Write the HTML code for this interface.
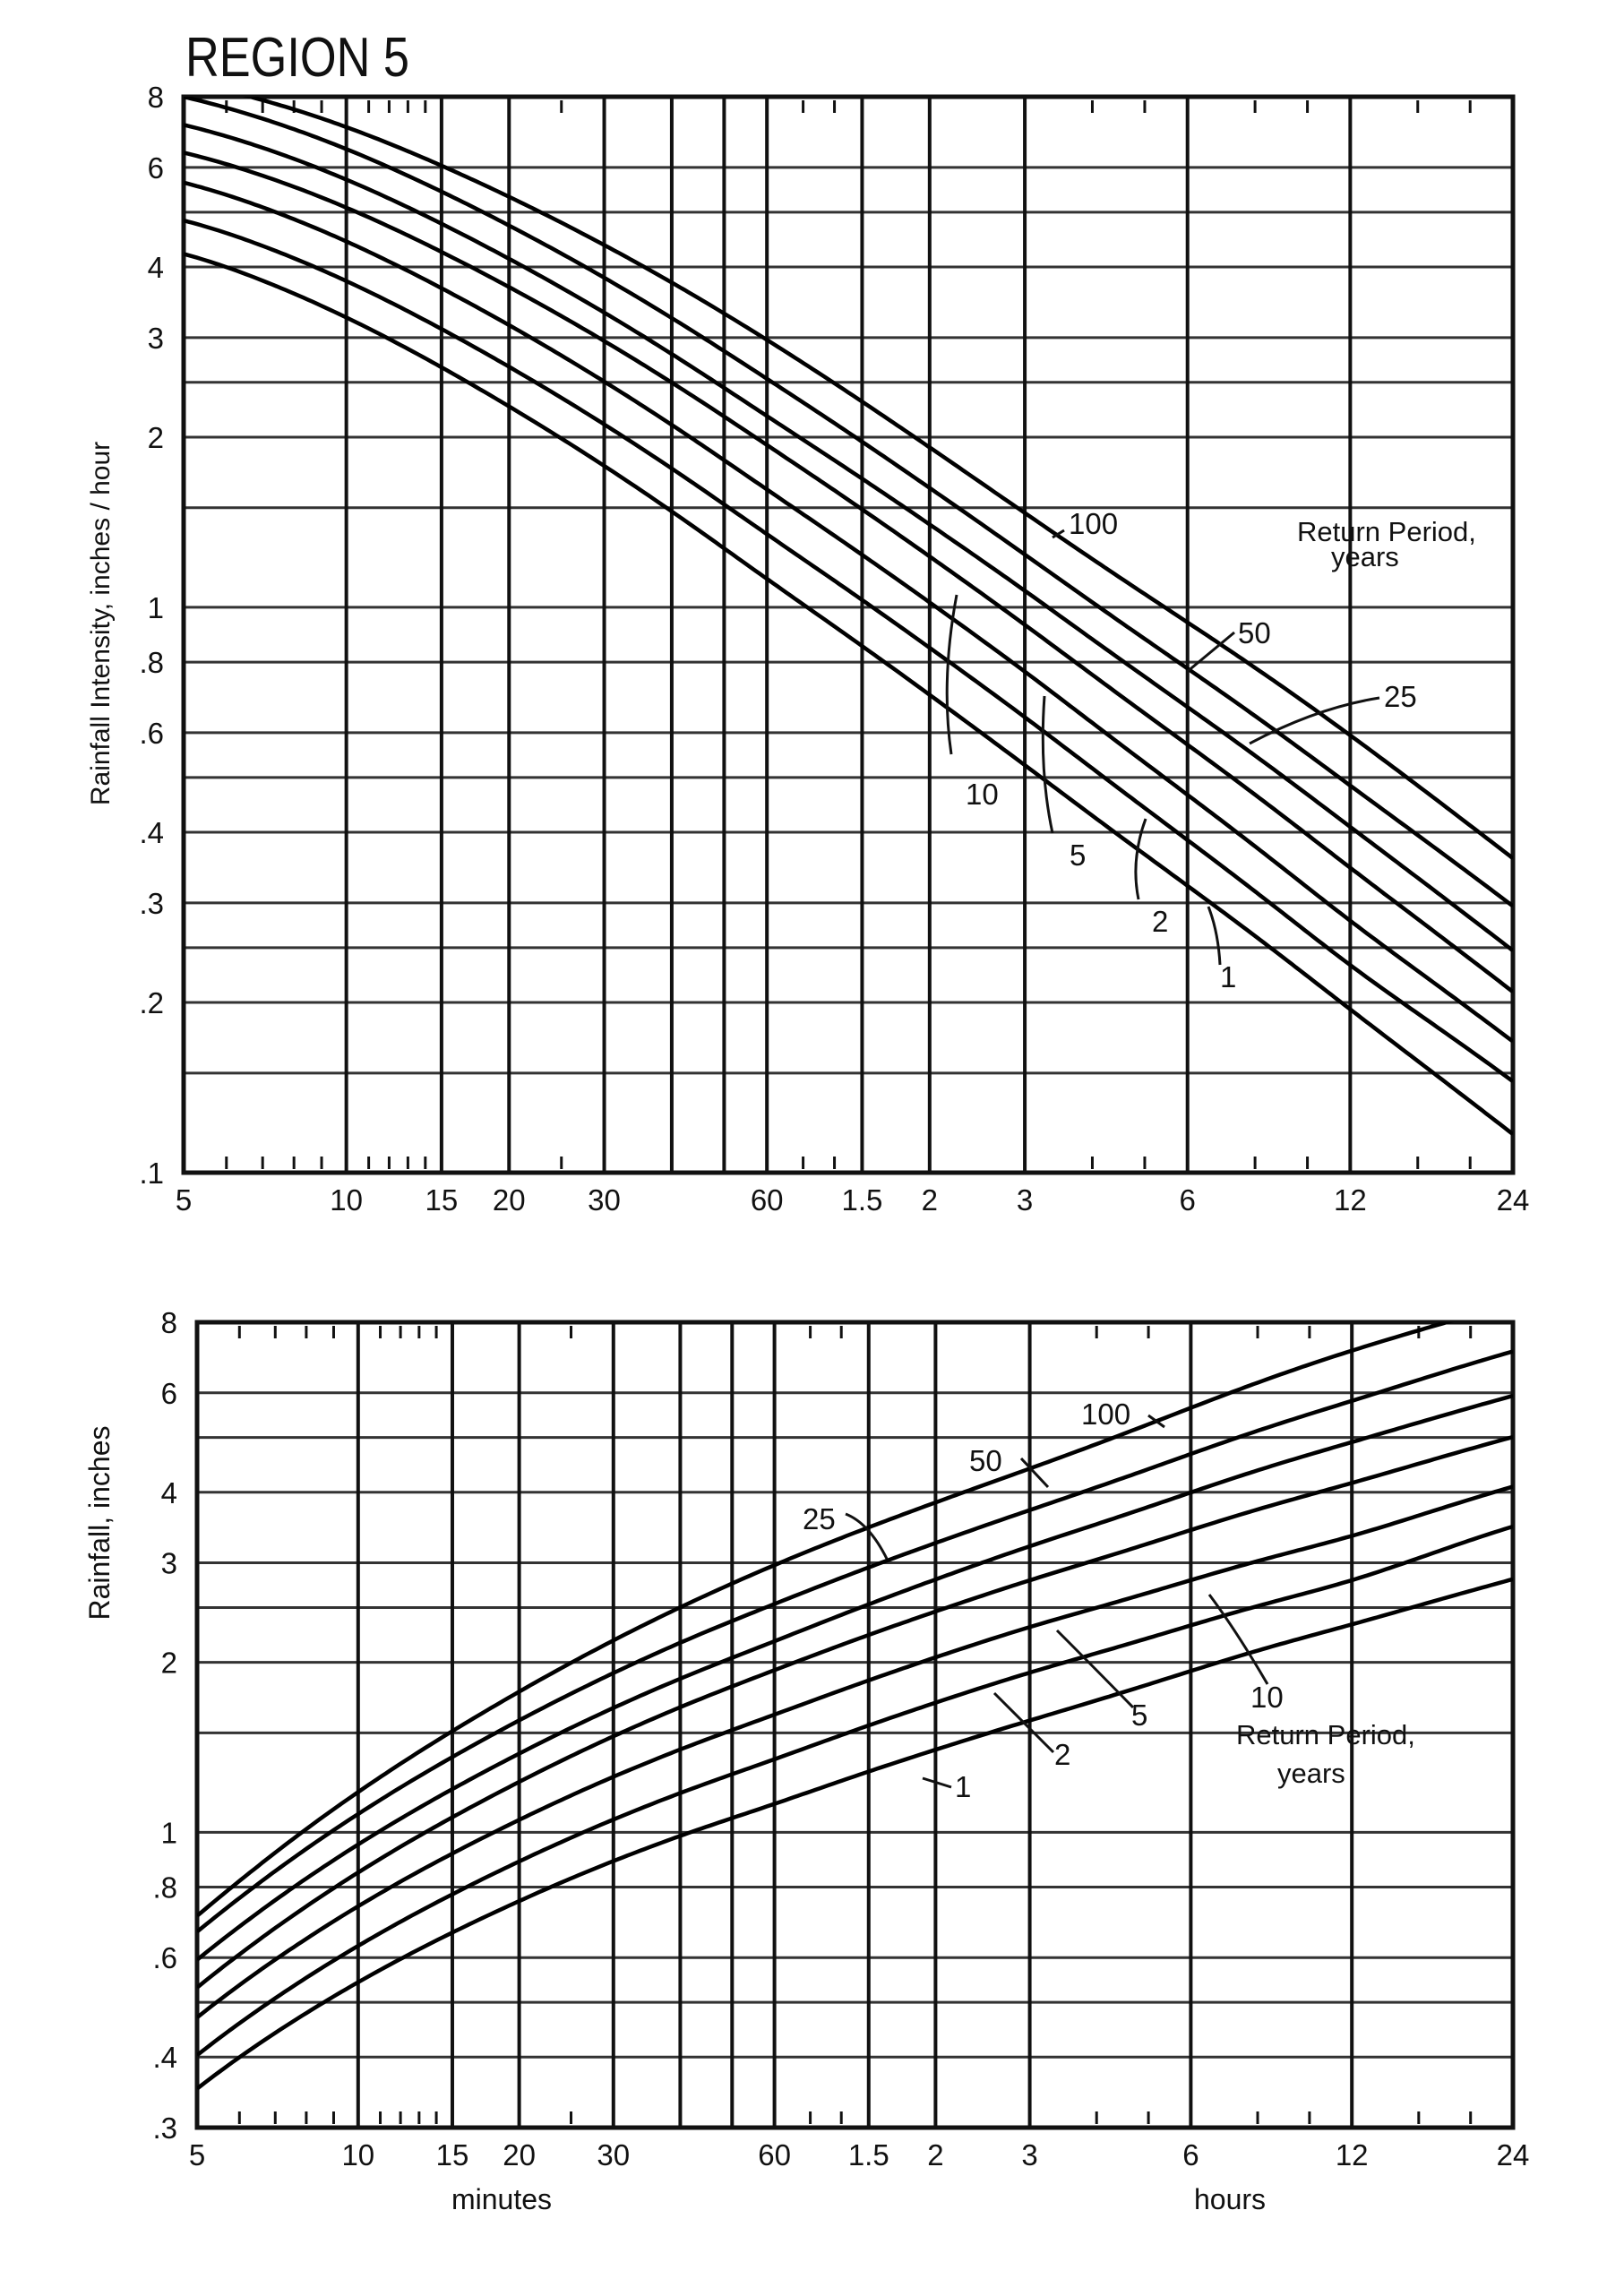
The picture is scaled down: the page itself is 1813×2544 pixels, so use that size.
<!DOCTYPE html>
<html><head><meta charset="utf-8"><style>
html,body{margin:0;padding:0;background:#fff}
svg text{font-family:"Liberation Sans",sans-serif;fill:#111}
</style></head><body>
<svg id="s" xmlns="http://www.w3.org/2000/svg" width="1813" height="2539" viewBox="0 0 1813 2539">
<rect width="1813" height="2539" fill="#fff"/>
<text x="207" y="85" font-size="62" textLength="250" lengthAdjust="spacingAndGlyphs">REGION 5</text>
<g id="top"></g><g id="bot"></g>
<g font-size="33">
<text x="1193" y="596">100</text>
<text x="1448" y="604" font-size="31">Return Period,</text>
<text x="1486" y="632" font-size="31">years</text>
<text x="1382" y="718">50</text>
<text x="1545" y="789">25</text>
<text x="1078" y="898">10</text>
<text x="1194" y="966">5</text>
<text x="1286" y="1040">2</text>
<text x="1362" y="1102">1</text>
<text x="1207" y="1590">100</text>
<text x="1082" y="1642">50</text>
<text x="896" y="1707">25</text>
<text x="1396" y="1906">10</text>
<text x="1263" y="1926">5</text>
<text x="1177" y="1970">2</text>
<text x="1066" y="2006">1</text>
<text x="1380" y="1947" font-size="31">Return Period,</text>
<text x="1426" y="1990" font-size="31">years</text>
</g>
<g stroke="#111" stroke-width="3" fill="none">
<path d="M1188 592 L1175 600"/>
<path d="M1068 664 Q1050 760 1062 842"/>
<path d="M1166 777 Q1160 860 1175 930"/>
<path d="M1279 914 Q1262 960 1271 1004"/>
<path d="M1349 1012 Q1360 1040 1362 1077"/>
<path d="M1378 706 L1325 750"/>
<path d="M1540 779 Q1470 790 1395 830"/>
<path d="M1282 1580 L1300 1593"/>
<path d="M1140 1628 L1170 1660"/>
<path d="M944 1690 Q970 1700 990 1740"/>
<path d="M1415 1880 Q1380 1820 1350 1780"/>
<path d="M1265 1906 Q1220 1860 1180 1820"/>
<path d="M1176 1956 Q1140 1920 1110 1890"/>
<path d="M1062 1995 L1030 1985"/>
</g>
<text transform="translate(122,696) rotate(-90)" font-size="30" text-anchor="middle">Rainfall Intensity, inches / hour</text>
<text transform="translate(122,1700) rotate(-90)" font-size="32" text-anchor="middle">Rainfall, inches</text>
<text x="560" y="2466" font-size="32" text-anchor="middle">minutes</text>
<text x="1373" y="2466" font-size="32" text-anchor="middle">hours</text>
</svg>
<script>
const NS="http://www.w3.org/2000/svg";
function el(p,n,a,txt){const e=document.createElementNS(NS,n);for(const k in a)e.setAttribute(k,a[k]);if(txt!==undefined)e.textContent=txt;p.appendChild(e);return e;}
const L288=Math.log(288);
function base(t){
 let v=Math.log10(8*Math.pow(20/(t+15),0.75));
 v+=0.05/(1+Math.exp(-(Math.log(t)-Math.log(360))*3));
 v+=0.03/(1+Math.exp((Math.log(t)-Math.log(12))*3));
 return v;}
const K=[5,60,180,720,1440].map(Math.log10);
const OFF=[[0,0,0,0,0],[17,44,46,57,53],[48,86,86,103,103],[79,118,124,149,149],[112,168,176,209,204],[154,218,227,259,248],[191,268,281,307,308]];
function offRaw(c,x){let i=0;while(i<K.length-2&&x>K[i+1])i++;const s=Math.min(1,Math.max(0,(x-K[i])/(K[i+1]-K[i])));return OFF[c][i]+(OFF[c][i+1]-OFF[c][i])*s;}
function off(c,t){const x=Math.log10(t);let s=0,w=0;for(let k=-6;k<=6;k++){const xx=x+k*0.03;const ww=Math.exp(-k*k/12);s+=offRaw(c,Math.min(Math.max(xx,K[0]),K[4]))*ww;w+=ww;}return s/w;}
function chart(g,X0,X1,Y0,Y1,vmax,vmin,hl,yl,depth){
 const W=X1-X0,D=(Y1-Y0)/Math.log10(vmax/vmin);
 const xf=t=>X0+W*Math.log(t/5)/L288, yf=v=>Y0+D*Math.log10(vmax/v);
 hl.forEach(v=>el(g,"line",{x1:X0,x2:X1,y1:yf(v),y2:yf(v),stroke:"#333","stroke-width":3}));
 [10,15,20,30,40,50,60,90,120,180,360,720].forEach(t=>el(g,"line",{x1:xf(t),x2:xf(t),y1:Y0,y2:Y1,stroke:"#111","stroke-width":4}));
 [6,7,8,9,11,12,13,14,25,70,80,240,300,480,600,960,1200].forEach(t=>{const x=xf(t);
  el(g,"line",{x1:x,x2:x,y1:Y0+4,y2:Y0+18,stroke:"#111","stroke-width":3});
  el(g,"line",{x1:x,x2:x,y1:Y1-18,y2:Y1-4,stroke:"#111","stroke-width":3});});
 el(g,"rect",{x:X0,y:Y0,width:W,height:Y1-Y0,fill:"none",stroke:"#111","stroke-width":5});
 const cp="c"+X0;
 const cl=el(g,"clipPath",{id:cp});el(cl,"rect",{x:X0,y:Y0,width:W,height:Y1-Y0});
 for(let c=0;c<7;c++){let d="";for(let k=0;k<=300;k++){const t=5*Math.pow(288,k/300);
  let lv=base(t)-off(c,t)/631;let v=Math.pow(10,lv);if(depth)v=v*t/60;
  d+=(k?"L":"M")+xf(t).toFixed(1)+" "+yf(v).toFixed(1);}
  el(g,"path",{d:d,fill:"none",stroke:"#000","stroke-width":4.5,"clip-path":"url(#"+cp+")"});}
 yl.forEach(([v,s])=>el(g,"text",{x:X0-22,y:yf(v)+12,"font-size":33,"text-anchor":"end"},s));
 [[5,"5"],[10,"10"],[15,"15"],[20,"20"],[30,"30"],[60,"60"],[90,"1.5"],[120,"2"],[180,"3"],[360,"6"],[720,"12"],[1440,"24"]]
 .forEach(([t,s])=>el(g,"text",{x:xf(t),y:Y1+42,"font-size":33,"text-anchor":"middle"},s));
}
chart(document.getElementById("top"),205,1689,108,1309,8,0.1,
 [6,5,4,3,2.5,2,1.5,1,.8,.6,.5,.4,.3,.25,.2,.15],
 [[8,"8"],[6,"6"],[4,"4"],[3,"3"],[2,"2"],[1,"1"],[.8,".8"],[.6,".6"],[.4,".4"],[.3,".3"],[.2,".2"],[.1,".1"]],false);
chart(document.getElementById("bot"),220,1689,1476,2375,8,0.3,
 [6,5,4,3,2.5,2,1.5,1,.8,.6,.5,.4],
 [[8,"8"],[6,"6"],[4,"4"],[3,"3"],[2,"2"],[1,"1"],[.8,".8"],[.6,".6"],[.4,".4"],[.3,".3"]],true);
</script>
</body></html>
